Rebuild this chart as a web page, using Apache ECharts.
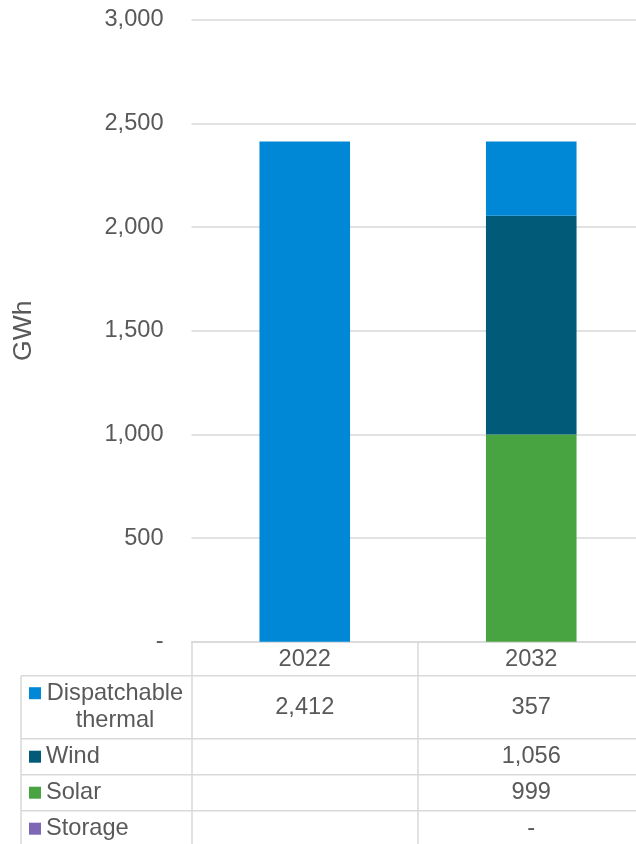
<!DOCTYPE html>
<html>
<head>
<meta charset="utf-8">
<script src="https://cdn.jsdelivr.net/npm/echarts@6/dist/echarts.min.js"></script>
<style>
  html, body { margin: 0; padding: 0; background: #fff; }
  #chart { width: 636px; height: 844px; }
</style>
</head>
<body>
<div id="chart"></div>
<script>
// Generation by source, GWh
const years = ['2022', '2032'];
const seriesNames = ['Dispatchable thermal', 'Wind', 'Solar', 'Storage'];
const dispatchable = [2412, 357];
const wind = [null, 1056];
const solar = [null, 999];
const storage = [null, 0];
const yTicks = [0, 500, 1000, 1500, 2000, 2500, 3000];

const colors = {
  'Dispatchable thermal': '#0088D6',
  'Wind': '#005A78',
  'Solar': '#48A441',
  'Storage': '#7E67B4'
};
const textColor = '#595959';
const lineColor = '#d9d9d9';
const fontFamily = '"Liberation Sans", Arial, sans-serif';
const fontSize = 23.6;

const valuesByName = {
  'Dispatchable thermal': dispatchable,
  'Wind': wind,
  'Solar': solar,
  'Storage': storage
};

function fmt(v) {
  if (v === null || v === undefined) return '';
  if (v === 0) return '-';
  return v.toLocaleString('en-US');
}

const chart = echarts.init(document.getElementById('chart'), null, { renderer: 'canvas' });

// Bottom-to-top stacking order
const stackOrder = ['Storage', 'Solar', 'Wind', 'Dispatchable thermal'];

chart.setOption({
  animation: false,
  textStyle: { fontFamily: fontFamily },
  grid: {
    left: 191.5, top: 19.7, width: 453, height: 622,
    containLabel: false, outerBoundsMode: 'none'
  },
  xAxis: {
    type: 'category',
    data: years,
    axisLine: { show: true, lineStyle: { color: lineColor, width: 1.5 } },
    axisTick: { show: true, length: 210, lineStyle: { color: lineColor, width: 1.5 } },
    axisLabel: { color: textColor, fontSize: fontSize, fontFamily: fontFamily, margin: 6 }
  },
  yAxis: {
    type: 'value',
    min: yTicks[0],
    max: yTicks[yTicks.length - 1],
    interval: 500,
    name: 'GWh',
    nameLocation: 'middle',
    nameRotate: 90,
    nameGap: 154,
    nameTextStyle: { color: textColor, fontSize: 26.5, fontFamily: fontFamily },
    axisLine: { show: false },
    axisTick: { show: false },
    splitLine: { lineStyle: { color: lineColor, width: 1.5 } },
    axisLabel: {
      color: textColor, fontSize: fontSize, fontFamily: fontFamily, margin: 28,
      formatter: v => fmt(v)
    }
  },
  series: stackOrder.map(name => ({
    name: name,
    type: 'bar',
    stack: 'gen',
    barWidth: '40%',
    data: valuesByName[name],
    itemStyle: { color: colors[name] },
    emphasis: { disabled: true }
  }))
});

// Data table beneath the category axis
const tableLeft = 21;
const tableRight = 660;
const rowLines = [675.7, 738.7, 774.7, 810.7, 846.7];
const rowCenters = [707.2, 756.7, 792.7, 828.7];
const colCenters = years.map((y, i) => chart.convertToPixel({ xAxisIndex: 0 }, i));

const graphics = [];
rowLines.forEach(y => {
  graphics.push({
    type: 'line', silent: true,
    shape: { x1: tableLeft, y1: y, x2: tableRight, y2: y },
    style: { stroke: lineColor, lineWidth: 1.5 }
  });
});
graphics.push({
  type: 'line', silent: true,
  shape: { x1: tableLeft, y1: rowLines[0], x2: tableLeft, y2: rowLines[rowLines.length - 1] },
  style: { stroke: lineColor, lineWidth: 1.5 }
});

seriesNames.forEach((name, r) => {
  const cy = rowCenters[r];
  const twoLine = name === 'Dispatchable thermal';
  const keyY = twoLine ? cy - 14 : cy;
  graphics.push({
    type: 'rect', silent: true,
    shape: { x: 29, y: keyY - 6, width: 12, height: 12 },
    style: { fill: colors[name] }
  });
  if (twoLine) {
    graphics.push({
      type: 'text', silent: true,
      style: {
        x: 115, y: cy, text: 'Dispatchable\nthermal',
        align: 'center', verticalAlign: 'middle', lineHeight: 26.6,
        fill: textColor, fontSize: fontSize, fontFamily: fontFamily
      }
    });
  } else {
    graphics.push({
      type: 'text', silent: true,
      style: {
        x: 46, y: cy, text: name,
        align: 'left', verticalAlign: 'middle',
        fill: textColor, fontSize: fontSize, fontFamily: fontFamily
      }
    });
  }
  valuesByName[name].forEach((v, c) => {
    const t = fmt(v);
    if (!t) return;
    graphics.push({
      type: 'text', silent: true,
      style: {
        x: colCenters[c], y: cy, text: t,
        align: 'center', verticalAlign: 'middle',
        fill: textColor, fontSize: fontSize, fontFamily: fontFamily
      }
    });
  });
});

chart.setOption({ graphic: graphics });
</script>
</body>
</html>
